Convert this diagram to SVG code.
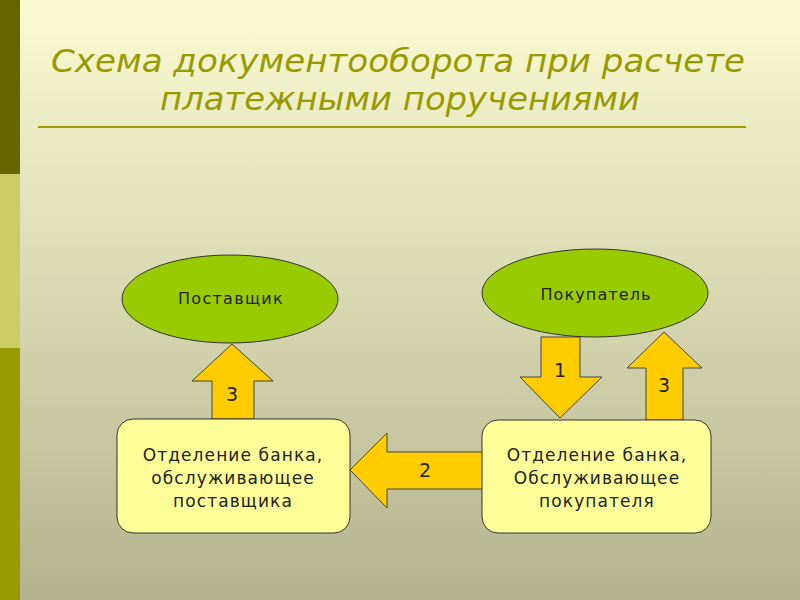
<svg xmlns="http://www.w3.org/2000/svg" width="800" height="600" viewBox="0 0 800 600">
<defs>
<linearGradient id="bg" x1="0" y1="0" x2="0" y2="1">
<stop offset="0" stop-color="#fbfbd2"/>
<stop offset="1" stop-color="#b3b38f"/>
</linearGradient>
<style>
.t{font-family:"DejaVu Sans",Verdana,sans-serif;fill:#222;text-anchor:middle}
.title{font-family:"DejaVu Sans Condensed","DejaVu Sans",sans-serif;font-stretch:condensed;font-style:italic;fill:#999900;text-anchor:middle;font-size:32px}
.ell{fill:#99cc00;stroke:#333;stroke-width:1}
.box{fill:#ffff99;stroke:#333;stroke-width:1}
.arr{fill:#ffcc00;stroke:#444;stroke-width:1}
</style>
</defs>
<rect width="800" height="600" fill="url(#bg)"/>
<rect x="0" y="0" width="20" height="174" fill="#666600"/>
<rect x="0" y="174" width="20" height="174" fill="#cccc66"/>
<rect x="0" y="348" width="20" height="252" fill="#999900"/>
<text class="title" x="398" y="72" textLength="694" lengthAdjust="spacingAndGlyphs">Схема документооборота при расчете</text>
<text class="title" x="400" y="110" textLength="480" lengthAdjust="spacingAndGlyphs">платежными поручениями</text>
<line x1="38" y1="127" x2="746" y2="127" stroke="#999900" stroke-width="2"/>
<g id="connectors">
<g id="arrow-3-left"><polygon class="arr" points="212,419 212,381 192,381 232,344 273,381 254,381 254,419"/><text class="t" x="232" y="401" font-size="19">3</text></g>
<g id="arrow-1"><polygon class="arr" points="541,337 580,337 580,377 602,377 560,418 520,377 541,377"/><text class="t" x="560" y="377" font-size="19">1</text></g>
<g id="arrow-3-right"><polygon class="arr" points="646,420 646,368 627,368 664,332 702,368 683,368 683,420"/><text class="t" x="664" y="392" font-size="19">3</text></g>
<g id="arrow-2"><polygon class="arr" points="483,452 387,452 387,433 350,470 387,508 387,489 483,489"/><text class="t" x="425" y="477" font-size="19">2</text></g>
</g>
<g id="supplier"><ellipse class="ell" cx="230" cy="299" rx="108" ry="44"/><text class="t" x="231" y="304" font-size="16" letter-spacing="1.3">Поставщик</text></g>
<g id="buyer"><ellipse class="ell" cx="595" cy="293" rx="113" ry="44"/><text class="t" x="596" y="300" font-size="16" letter-spacing="1.1">Покупатель</text></g>
<g id="bank-supplier"><rect class="box" x="117" y="419" width="233" height="114" rx="16"/>
<text class="t" font-size="17" letter-spacing="1.1"><tspan x="233" y="461">Отделение банка,</tspan><tspan x="233" y="484">обслуживающее</tspan><tspan x="233" y="507">поставщика</tspan></text></g>
<g id="bank-buyer"><rect class="box" x="482" y="420" width="229" height="113" rx="16"/>
<text class="t" font-size="17" letter-spacing="1.1"><tspan x="597" y="461">Отделение банка,</tspan><tspan x="597" y="484">Обслуживающее</tspan><tspan x="597" y="507">покупателя</tspan></text></g>
</svg>
